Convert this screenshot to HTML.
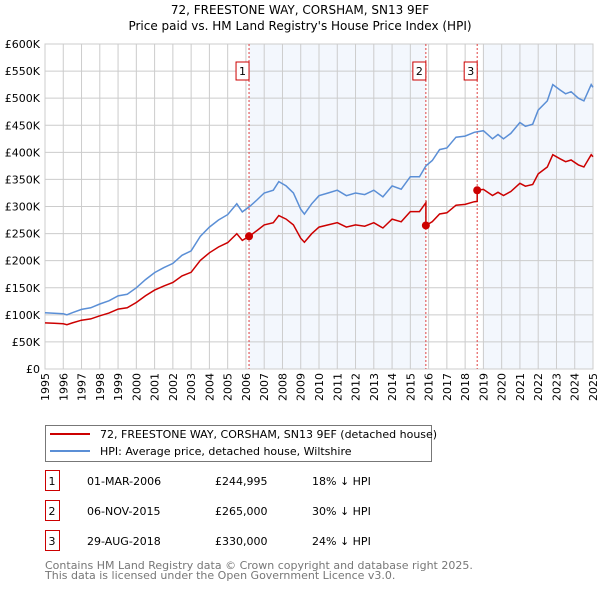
<!DOCTYPE html>
<html><head><meta charset="utf-8"><style>
body{margin:0;background:#fff;font-family:"DejaVu Sans","Liberation Sans",sans-serif;}
svg text{font-family:"DejaVu Sans","Liberation Sans",sans-serif;}
</style></head><body>
<svg id="c" width="600" height="590" xmlns="http://www.w3.org/2000/svg">
<text x="300" y="14" text-anchor="middle" font-size="12">72, FREESTONE WAY, CORSHAM, SN13 9EF</text>
<text x="300" y="30" text-anchor="middle" font-size="12">Price paid vs. HM Land Registry's House Price Index (HPI)</text>
<g id="plot"></g>
<g>
<rect x="45.5" y="425.5" width="386" height="36" fill="#fff" stroke="#777"/>
<line x1="50" y1="434" x2="90" y2="434" stroke="#cc0000" stroke-width="2"/>
<text x="100" y="438" font-size="11">72, FREESTONE WAY, CORSHAM, SN13 9EF (detached house)</text>
<line x1="50" y1="451" x2="90" y2="451" stroke="#5b8fd6" stroke-width="2"/>
<text x="100" y="455" font-size="11">HPI: Average price, detached house, Wiltshire</text>
</g>
<g id="table" font-size="11"></g>
<text x="45" y="569" font-size="11" fill="#777">Contains HM Land Registry data © Crown copyright and database right 2025.</text>
<text x="45" y="579" font-size="11" fill="#777">This data is licensed under the Open Government Licence v3.0.</text>
</svg>
<script>
const hpiYears=[1995,1995.5,1996,1996.2,1996.5,1997,1997.5,1998,1998.5,1999,1999.5,2000,2000.5,2001,2001.5,2002,2002.5,2003,2003.5,2004,2004.5,2005,2005.5,2005.8,2006.2,2006.6,2007,2007.5,2007.8,2008.2,2008.6,2009,2009.2,2009.6,2010,2010.5,2011,2011.5,2012,2012.5,2013,2013.5,2014,2014.5,2015,2015.5,2015.85,2016.2,2016.6,2017,2017.5,2018,2018.5,2019,2019.5,2019.8,2020.1,2020.5,2021,2021.3,2021.7,2022,2022.5,2022.8,2023.2,2023.5,2023.8,2024.2,2024.5,2024.9,2025];
const hpiValues=[104,103,102,100,104,110,113,120,126,135,138,150,165,178,187,195,210,218,245,262,275,285,305,290,300,312,325,330,346,338,325,295,286,305,320,325,330,320,325,322,330,318,338,332,355,355,375,385,405,408,428,430,437,440,425,433,425,435,455,448,452,478,495,525,515,508,512,500,495,525,520];
const saleLabels=["1","2","3"];
const saleYears=[2006.17,2015.85,2018.66];
const salePrices=[244.995,265,330];
const saleDates=["01-MAR-2006","06-NOV-2015","29-AUG-2018"];
const salePriceText=["£244,995","£265,000","£330,000"];
const saleDiffText=["18% ↓ HPI","30% ↓ HPI","24% ↓ HPI"];
const yTicks=[0,50,100,150,200,250,300,350,400,450,500,550,600];
const yTickLabels=["£0","£50K","£100K","£150K","£200K","£250K","£300K","£350K","£400K","£450K","£500K","£550K","£600K"];
const xTicks=[1995,1996,1997,1998,1999,2000,2001,2002,2003,2004,2005,2006,2007,2008,2009,2010,2011,2012,2013,2014,2015,2016,2017,2018,2019,2020,2021,2022,2023,2024,2025];

const L=45,R=593,T=44,B=369,NS="http://www.w3.org/2000/svg";
const xs=y=>L+(y-1995)/30*(R-L);
const ys=v=>B-v/600*(B-T);
const g=document.getElementById('plot');
function mk(tag,attrs,parent){const e=document.createElementNS(NS,tag);for(const k in attrs)e.setAttribute(k,attrs[k]);(parent||g).appendChild(e);return e;}
function hpiAt(y){for(let i=0;i<hpiYears.length-1;i++){if(y<=hpiYears[i+1]){const t=(y-hpiYears[i])/(hpiYears[i+1]-hpiYears[i]);return hpiValues[i]+t*(hpiValues[i+1]-hpiValues[i]);}}return hpiValues[hpiValues.length-1];}
mk('rect',{x:L,y:T,width:R-L,height:B-T,fill:'#fff'});
let s1=mk('rect',{x:xs(saleYears[0]),y:T,width:xs(saleYears[1])-xs(saleYears[0]),height:B-T,fill:'#eef3fc',opacity:0.7});

let s2=mk('rect',{x:xs(saleYears[2]+0.35),y:T,width:R-xs(saleYears[2]+0.35),height:B-T,fill:'#eef3fc',opacity:0.7});

xTicks.forEach(t=>{mk('line',{x1:xs(t),y1:T,x2:xs(t),y2:B,stroke:'#ccc','stroke-width':1});
 const tx=mk('text',{x:0,y:0,'font-size':11,'text-anchor':'end',transform:`translate(${xs(t)+4},${B+4}) rotate(-90)`});tx.textContent=t;
 });
yTicks.forEach((t,i)=>{mk('line',{x1:L,y1:ys(t),x2:R,y2:ys(t),stroke:'#ccc','stroke-width':1});
 const tx=mk('text',{x:L-5,y:ys(t)+4,'font-size':11,'text-anchor':'end'});tx.textContent=yTickLabels[i];
 });
mk('rect',{x:L,y:T,width:R-L,height:B-T,fill:'none',stroke:'#ccc'});
// property line: sale price indexed by HPI between sales
const redPts=[];
hpiYears.forEach((y,i)=>{let k=0;for(let j=0;j<saleYears.length;j++)if(y>=saleYears[j])k=j;
 if(i>0&&hpiYears[i-1]<saleYears[k]&&y>=saleYears[k]&&k>0){const pk=salePrices[k-1]*hpiAt(saleYears[k])/hpiAt(saleYears[k-1]);redPts.push([saleYears[k],pk]);redPts.push([saleYears[k],salePrices[k]]);}
 else if(i>0&&hpiYears[i-1]<saleYears[0]&&y>=saleYears[0]){redPts.push([saleYears[0],salePrices[0]]);}
 redPts.push([y,salePrices[k]*hpiValues[i]/hpiAt(saleYears[k])]);});
saleYears.forEach((sy,j)=>{const l=mk('line',{x1:xs(sy),y1:T,x2:xs(sy),y2:B,stroke:'#e04040','stroke-width':1,'stroke-dasharray':'2,2'});
 
 const bx=mk('rect',{x:xs(sy)-13,y:62,width:13,height:18,fill:'#fff',stroke:'#cc0000'});
 
 const t=mk('text',{x:xs(sy)-6.5,y:75,'font-size':11,'text-anchor':'middle'});t.textContent=saleLabels[j];
 });
const hp=mk('path',{d:hpiYears.map((y,i)=>(i?'L':'M')+xs(y).toFixed(1)+' '+ys(hpiValues[i]).toFixed(1)).join(''),fill:'none',stroke:'#5b8fd6','stroke-width':1.5});

const rp=mk('path',{d:redPts.map((p,i)=>(i?'L':'M')+xs(p[0]).toFixed(1)+' '+ys(p[1]).toFixed(1)).join(''),fill:'none',stroke:'#cc0000','stroke-width':1.5});

saleYears.forEach((sy,j)=>{const c=mk('circle',{cx:xs(sy),cy:ys(salePrices[j]),r:4,fill:'#cc0000'});
 });
const tb=document.getElementById('table');
saleLabels.forEach((lb,j)=>{const y=483+j*30;
 const b=mk('rect',{x:45.5,y:y-12.5,width:14,height:20,fill:'#fff',stroke:'#cc0000'},tb);
 
 [[52,lb,'middle'],[87,saleDates[j],'start'],[215,salePriceText[j],'start'],[312,saleDiffText[j],'start']].forEach(a=>{
  const t=mk('text',{x:a[0],y:y+2,'text-anchor':a[2]},tb);t.textContent=a[1];
  });});
</script>
</body></html>
